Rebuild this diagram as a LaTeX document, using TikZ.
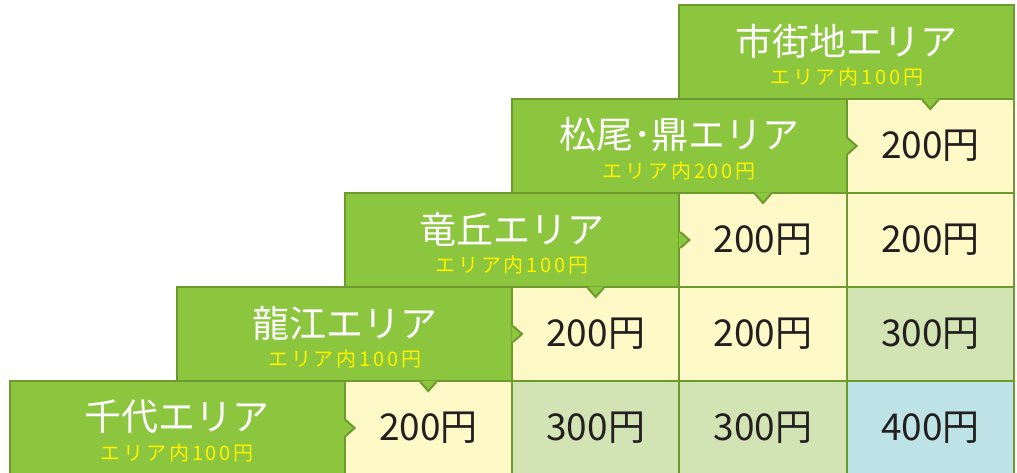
\documentclass[tikz,border=0pt]{standalone}
\usepackage{fontspec}
\setmainfont{Noto Sans CJK JP}
\newfontfamily\subfont[LetterSpace=14]{Noto Sans CJK JP}
\usepackage{tikz}
\usetikzlibrary{calc}
\definecolor{AreaGreen}{RGB}{140, 198, 63}
\definecolor{EdgeGreen}{RGB}{108, 154, 46}
\definecolor{FareYellow}{RGB}{255, 249, 200}
\definecolor{FareGreen}{RGB}{211, 228, 180}
\definecolor{FareBlue}{RGB}{190, 227, 230}
\definecolor{SubYellow}{RGB}{255, 242, 0}
\definecolor{FareInk}{RGB}{35, 31, 32}

\begin{document}
\begin{tikzpicture}[x=1pt, y=-1pt]
      \tikzstyle{cell}=[draw=EdgeGreen, line width=2pt, minimum width=167.3pt, minimum height=94pt, inner sep=0pt, text=FareInk, font=\fontsize{37}{40}\selectfont];
      \tikzstyle{yen200}=[cell, fill=FareYellow];
      \tikzstyle{yen300}=[cell, fill=FareGreen];
      \tikzstyle{yen400}=[cell, fill=FareBlue];
      \tikzstyle{area}=[draw=EdgeGreen, line width=2pt, fill=AreaGreen, minimum width=334.7pt, minimum height=94pt, inner sep=0pt];
      \tikzstyle{title}=[text=white, inner sep=0pt, font=\fontsize{37}{40}\selectfont];
      \tikzstyle{sub}=[text=SubYellow, inner sep=0pt, font=\subfont\fontsize{20}{22}\selectfont];
      \tikzstyle{edge}=[draw=EdgeGreen, line width=2pt, line join=miter];

      \useasboundingbox (0, 0) rectangle (1017, 473);

      % fare cells
      \node[yen200] (c15) at (930.3, 146) {200円};
      \node[yen200] (c24) at (763, 240) {200円};
      \node[yen200] (c25) at (930.3, 240) {200円};
      \node[yen200] (c33) at (595.7, 334) {200円};
      \node[yen200] (c34) at (763, 334) {200円};
      \node[yen300] (c35) at (930.3, 334) {300円};
      \node[yen200] (c42) at (428.3, 428) {200円};
      \node[yen300] (c43) at (595.7, 428) {300円};
      \node[yen300] (c44) at (763, 428) {300円};
      \node[yen400] (c45) at (930.3, 428) {400円};

      % area headers
      \node[area] (h0) at (846.7, 52) {};
      \node[area] (h1) at (679.3, 146) {};
      \node[area] (h2) at (512, 240) {};
      \node[area] (h3) at (344.7, 334) {};
      \node[area] (h4) at (177.3, 428) {};

      \node[title] (t0) at ($(h0.north)+(0, 37)$) {市街地エリア};
      \node[sub] (s0) at ($(h0.north)+(0, 73)$) {エリア内100円};
      \node[title] (t1) at ($(h1.north)+(0, 37)$) {松尾･鼎エリア};
      \node[sub] (s1) at ($(h1.north)+(0, 73)$) {エリア内200円};
      \node[title] (t2) at ($(h2.north)+(0, 37)$) {竜丘エリア};
      \node[sub] (s2) at ($(h2.north)+(0, 73)$) {エリア内100円};
      \node[title] (t3) at ($(h3.north)+(0, 37)$) {龍江エリア};
      \node[sub] (s3) at ($(h3.north)+(0, 73)$) {エリア内100円};
      \node[title] (t4) at ($(h4.north)+(0, 37)$) {千代エリア};
      \node[sub] (s4) at ($(h4.north)+(0, 73)$) {エリア内100円};

      % pointers down
      \fill[AreaGreen] ($(h0.south -| c15)+(-8, -1.5)$) -- ++(8, 10.5) -- ++(8, -10.5) -- cycle;
      \draw[edge] ($(h0.south -| c15)+(-8, 0)$) -- ++(8, 9) -- ++(8, -9);
      \fill[AreaGreen] ($(h1.south -| c24)+(-8, -1.5)$) -- ++(8, 10.5) -- ++(8, -10.5) -- cycle;
      \draw[edge] ($(h1.south -| c24)+(-8, 0)$) -- ++(8, 9) -- ++(8, -9);
      \fill[AreaGreen] ($(h2.south -| c33)+(-8, -1.5)$) -- ++(8, 10.5) -- ++(8, -10.5) -- cycle;
      \draw[edge] ($(h2.south -| c33)+(-8, 0)$) -- ++(8, 9) -- ++(8, -9);
      \fill[AreaGreen] ($(h3.south -| c42)+(-8, -1.5)$) -- ++(8, 10.5) -- ++(8, -10.5) -- cycle;
      \draw[edge] ($(h3.south -| c42)+(-8, 0)$) -- ++(8, 9) -- ++(8, -9);

      % pointers right
      \fill[AreaGreen] ($(h1.east |- c15)+(-1.5, -8)$) -- ++(10.5, 8) -- ++(-10.5, 8) -- cycle;
      \draw[edge] ($(h1.east |- c15)+(0, -8)$) -- ++(9, 8) -- ++(-9, 8);
      \fill[AreaGreen] ($(h2.east |- c24)+(-1.5, -8)$) -- ++(10.5, 8) -- ++(-10.5, 8) -- cycle;
      \draw[edge] ($(h2.east |- c24)+(0, -8)$) -- ++(9, 8) -- ++(-9, 8);
      \fill[AreaGreen] ($(h3.east |- c33)+(-1.5, -8)$) -- ++(10.5, 8) -- ++(-10.5, 8) -- cycle;
      \draw[edge] ($(h3.east |- c33)+(0, -8)$) -- ++(9, 8) -- ++(-9, 8);
      \fill[AreaGreen] ($(h4.east |- c42)+(-1.5, -8)$) -- ++(10.5, 8) -- ++(-10.5, 8) -- cycle;
      \draw[edge] ($(h4.east |- c42)+(0, -8)$) -- ++(9, 8) -- ++(-9, 8);
\end{tikzpicture}
\end{document}
